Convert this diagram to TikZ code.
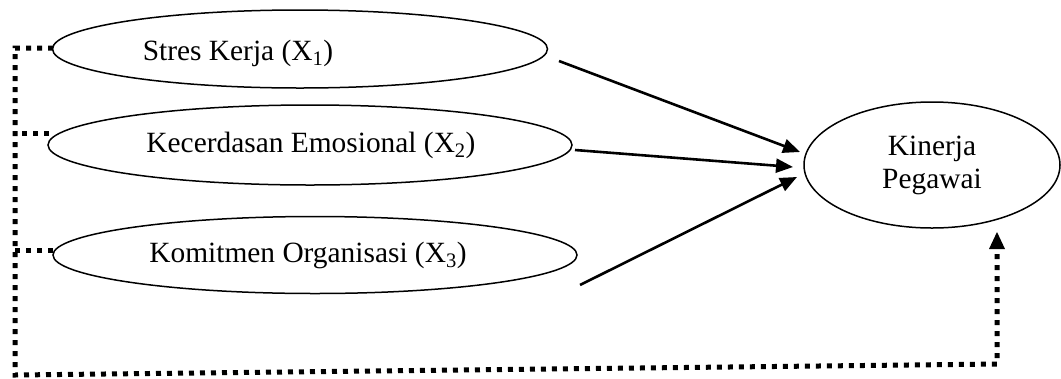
\documentclass[tikz,border=0pt]{standalone}
\usepackage{fontspec}
\setmainfont{Liberation Serif}
\usetikzlibrary{shapes.geometric,arrows.meta}
\tikzset{
  ell/.style={draw, ellipse, line width=1.5bp, inner sep=0pt},
  lbl/.style={anchor=base, inner sep=0pt, font=\fontsize{29.5}{34}\selectfont},
  solidarrow/.style={line width=2.6bp, -{Triangle[length=17bp,width=14bp]}},
  dotline/.style={line width=5bp, dash pattern=on 5bp off 6bp},
}
\begin{document}
\begin{tikzpicture}[x=1bp,y=-1bp]
\useasboundingbox (0,0) rectangle (1061,378);
% ellipses
\node[ell, minimum width=495bp, minimum height=78bp] (e1) at (300,49) {};
\node[ell, minimum width=524bp, minimum height=80bp] (e2) at (310,145) {};
\node[ell, minimum width=524bp, minimum height=77bp] (e3) at (315,255) {};
\node[ell, minimum width=256bp, minimum height=126bp, align=center,
      font=\fontsize{29.5}{33}\selectfont] (k) at (932,165) {Kinerja\\Pegawai};
% labels
\node[lbl] (t1) at (238,60) {Stres Kerja (X\textsubscript{1})};
\node[lbl] (t2) at (311,152) {Kecerdasan Emosional (X\textsubscript{2})};
\node[lbl] (t3) at (308,262) {Komitmen Organisasi (X\textsubscript{3})};
% arrow coordinates
\coordinate (a1s) at (559,61);  \coordinate (a1e) at (800,152);
\coordinate (a2s) at (575,150); \coordinate (a2e) at (793,167);
\coordinate (a3s) at (580,285); \coordinate (a3e) at (797,177);
\draw[solidarrow] (a1s) -- (a1e);
\draw[solidarrow] (a2s) -- (a2e);
\draw[solidarrow] (a3s) -- (a3e);
% dotted frame
\coordinate (d1) at (53,48);
\coordinate (d2) at (49,133);
\coordinate (d3) at (53,250);
\coordinate (c1) at (15,48);
\coordinate (c2) at (15,133);
\coordinate (c3) at (15,250);
\coordinate (bl) at (15,375);
\coordinate (br) at (997,364);
\coordinate (kt) at (997,232);
\draw[dotline] (d1) -- (c1) -- (bl) -- (br) -- (997,247);
\draw[dotline] (d2) -- (c2);
\draw[dotline] (d3) -- (c3);
\fill (kt) -- ++(-8,17) -- ++(16,0) -- cycle;
\end{tikzpicture}
\end{document}
